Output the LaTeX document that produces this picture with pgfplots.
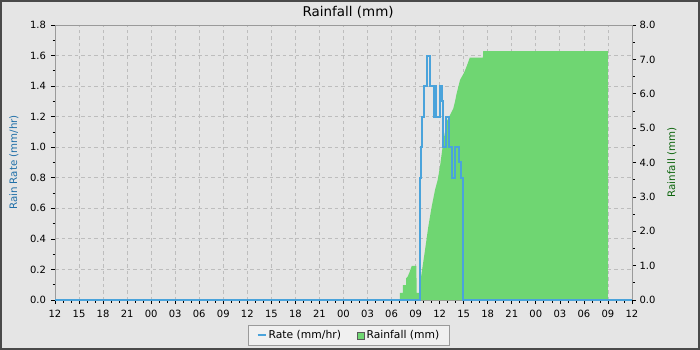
\documentclass[border=0pt]{standalone}
\usepackage{fontspec}
\setmainfont{DejaVu Sans}
\usepackage{pgfplots}
\pgfplotsset{compat=1.18}
\definecolor{bgc}{HTML}{E5E5E5}
\definecolor{framec}{HTML}{4A4A4A}
\definecolor{ratec}{HTML}{4AA3DB}
\definecolor{rainc}{HTML}{6FD672}
\definecolor{ratelab}{HTML}{1F6FA8}
\definecolor{rainlab}{HTML}{0B640B}
\definecolor{gridc}{HTML}{BDBDBD}
\definecolor{spinec}{HTML}{9A9A9A}
\definecolor{legbg}{HTML}{F0F0F0}
\pgfplotsset{
  common/.style={
    scale only axis, width=577bp, height=275bp,
    xmin=0, xmax=72,
    at={(0,0)}, anchor=south west,
    tick align=outside,
    major tick length=4bp, minor tick length=2.5bp,
    axis line style={spinec, line width=0.8bp},
    tick style={black, line width=0.7bp},
    ticklabel style={font=\fontsize{10}{12}\selectfont},
    /pgf/number format/assume math mode=true,
  }
}
\begin{document}
\begin{tikzpicture}
\path[use as bounding box] (-55bp,-50bp) rectangle (645bp,300bp);
\fill[bgc] (-55bp,-50bp) rectangle (645bp,300bp);
\draw[framec, line width=2bp] (-54bp,-49bp) rectangle (644bp,299bp);

% axis 1: rate scale, grid, x ticks
\begin{axis}[common,
  ymin=0, ymax=1.8,
  ytick={0,0.2,0.4,0.6,0.8,1.0,1.2,1.4,1.6,1.8},
  minor y tick num=1,
  xtick={0,3,...,72}, minor x tick num=2,
  xticklabels={12,15,18,21,00,03,06,09,12,15,18,21,00,03,06,09,12,15,18,21,00,03,06,09,12},
  xtick pos=bottom, ytick pos=left,
  xticklabel style={yshift=-3bp},
  yticklabel style={xshift=-1.5bp, /pgf/number format/.cd, fixed, fixed zerofill, precision=1},
  grid=major, major grid style={gridc, line width=0.8bp, dash pattern=on 3.5bp off 3bp},
  ylabel={Rain Rate (mm/hr)},
  y label style={at={(axis description cs:-0.0711,0.5)}, anchor=center, color=ratelab, font=\fontsize{10.3}{12}\selectfont},
  title={Rainfall (mm)},
  title style={at={(axis description cs:0.508,1)}, yshift=7bp, anchor=center, font=\fontsize{13.5}{15}\selectfont},
]
\addplot[draw=none, forget plot] coordinates {(0,0) (72,0)};
\end{axis}

% axis 2: rainfall
\begin{axis}[common,
  ymin=0, ymax=8,
  ytick={0,1,...,8}, minor y tick num=1,
  axis y line*=right, axis x line=none,
  yticklabel style={/pgf/number format/.cd, fixed, fixed zerofill, precision=1},
  ylabel={Rainfall (mm)},
  y label style={at={(axis description cs:1.0693,0.5)}, anchor=center, rotate=0, color=rainlab, font=\fontsize{10.3}{12}\selectfont},
  legend columns=2,
  legend style={at={(axis description cs:0.5095,-0.0915)}, anchor=north,
    fill=legbg, draw=spinec, line width=0.8bp, font=\fontsize{10.8}{12}\selectfont,
    inner xsep=8bp, inner ysep=3bp},
]
\addlegendimage{legend image code/.code={\draw[ratec, line width=2bp] (0bp,0bp) -- (8bp,0bp);}}
\addlegendentry{Rate (mm/hr)\rule{14bp}{0pt}}
\addplot[fill=rainc, draw=none,
  legend image code/.code={\draw[fill=rainc, draw=gray!70!black, line width=0.6bp] (0.5bp,-3.5bp) rectangle (7.5bp,3.5bp);}]
  coordinates {
  (43.05,0)(43.05,0.21)(43.42,0.21)(43.42,0.43)(43.80,0.43)(43.80,0.63)
  (44.01,0.68)(44.26,0.82)(44.51,0.99)(45.10,0.99)(45.12,0.21)(45.55,0.21)
  (45.60,0.55)(46.17,1.45)(46.58,2.13)(47.00,2.71)(47.42,3.20)(47.75,3.49)
  (48.04,3.88)(48.45,4.60)(48.88,5.20)(49.29,5.38)(49.70,5.57)(49.91,5.77)
  (50.12,6.01)(50.33,6.20)(50.54,6.40)(50.75,6.49)(51.04,6.61)(51.37,6.80)
  (51.70,7.01)(51.75,7.05)(53.40,7.05)(53.44,7.24)(69.00,7.24)(69.00,0)
  } \closedcycle;
\addlegendentry{Rainfall (mm)}
\end{axis}

% axis 3: rate line on top
\begin{axis}[common, hide axis, ymin=0, ymax=1.8, clip=false]
\addplot[ratec, line width=2bp, const plot mark left] coordinates {
  (0,0)(45.50,0.8)(45.67,1.0)(45.83,1.2)(46.08,1.4)(46.42,1.6)(46.79,1.4)
  (47.25,1.2)(47.33,1.4)(47.58,1.2)(48.00,1.4)(48.33,1.3)(48.42,1.0)
  (48.79,1.2)(49.20,1.0)(49.54,0.8)(49.95,1.0)(50.45,0.9)(50.70,0.8)
  (50.95,0)(72,0)
};
\end{axis}
\end{tikzpicture}
\end{document}
